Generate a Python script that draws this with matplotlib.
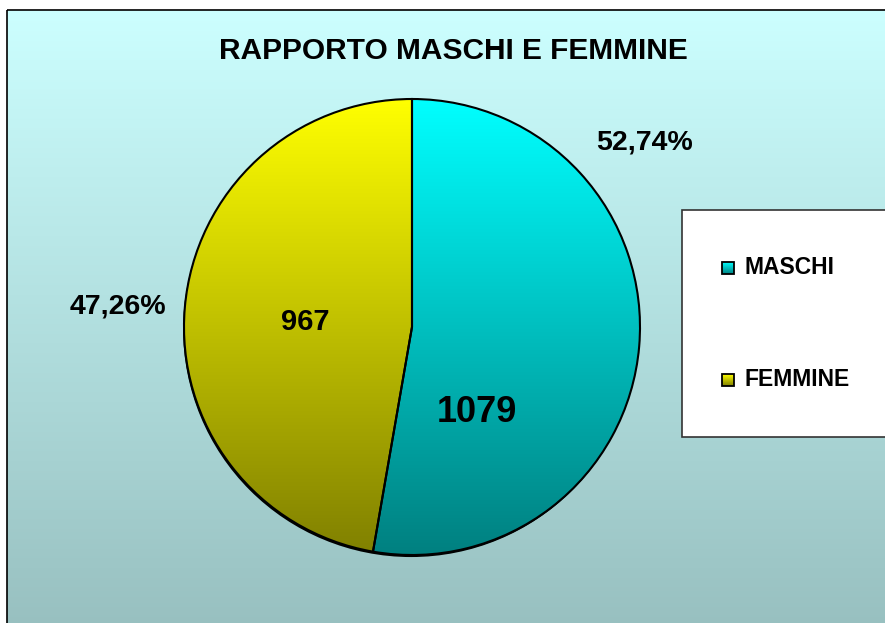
import numpy as np
import matplotlib
matplotlib.use("Agg")
import matplotlib.pyplot as plt
from matplotlib.colors import LinearSegmentedColormap
from matplotlib.patches import Rectangle, Circle

plt.rcParams['font.family'] = ['Liberation Sans', 'DejaVu Sans']

# data
categories = ["MASCHI", "FEMMINE"]
counts = [1079, 967]
title = "RAPPORTO MASCHI E FEMMINE"

# gradient colours per slice (top -> bottom)
top_cols = ["#00ffff", "#ffff00"]
bot_cols = ["#008080", "#808000"]

W, H = 885, 623
fig = plt.figure(figsize=(W / 100, H / 100), dpi=100)

# background axes in pixel coordinates
bg = fig.add_axes([0, 0, 1, 1])
bg.set_xlim(0, W)
bg.set_ylim(H, 0)
bg.axis("off")

grad = np.linspace(0, 1, 256).reshape(-1, 1)
bg_cmap = LinearSegmentedColormap.from_list("bg", ["#ccffff", "#98c0c0"])
bg.imshow(grad, cmap=bg_cmap, extent=(7, W + 5, H + 5, 10), aspect="auto", zorder=0)
bg.add_patch(Rectangle((7, 10), W, H, fill=False, ec="black", lw=1.2, zorder=1))

bg.text(453, 51, title, ha="center", va="center", fontsize=21.5, fontweight="bold")

# legend box
bg.add_patch(Rectangle((682, 210), 220, 227, fc="white", ec="#333333", lw=1.2, zorder=2))
leg_y = [268, 380]
for cat, y, tc, bc in zip(categories, leg_y, top_cols, bot_cols):
    cm = LinearSegmentedColormap.from_list(cat, [tc, bc])
    bg.imshow(grad, cmap=cm, extent=(722, 734, y + 6, y - 6), aspect="auto", zorder=3)
    bg.add_patch(Rectangle((722, y - 6), 12, 12, fill=False, ec="black", lw=1.3, zorder=4))
    bg.text(745, y, cat, ha="left", va="center", fontsize=16.5, fontweight="bold", zorder=4)

# pie axes: centre (412, 327) px, radius 228 px
cx, cy, r = 412, 327, 228
pad = 1.03
pax = fig.add_axes([(cx - r * pad) / W, (H - cy - r * pad) / H, 2 * pad * r / W, 2 * pad * r / H])
pax.set_facecolor("none")
wedges, _ = pax.pie(counts, startangle=90, counterclock=False, radius=1,
                    wedgeprops=dict(fc="none", ec="black", lw=1.5))
pax.set_xlim(-pad, pad)
pax.set_ylim(-pad, pad)
pax.set_aspect("equal")
pax.axis("off")

# slight drop shadow under the pie
pax.add_patch(Circle((-0.004, -0.009), 1.0, fc="black", ec="none", zorder=0.5))

for w, cat, tc, bc in zip(wedges, categories, top_cols, bot_cols):
    cm = LinearSegmentedColormap.from_list(cat + "_w", [tc, bc])
    im = pax.imshow(grad, cmap=cm, extent=(-1, 1, -1, 1), aspect="auto", zorder=1)
    im.set_clip_path(w)
    w.set_zorder(2)

total = sum(counts)
pcts = [f"{100 * c / total:.2f}".replace(".", ",") + "%" for c in counts]

# percentage labels outside, counts inside
pax.text(1.02, 0.81, pcts[0], ha="center", va="center", fontsize=20.5, fontweight="bold")
pax.text(-1.29, 0.09, pcts[1], ha="center", va="center", fontsize=20.5, fontweight="bold")
pax.text(0.285, -0.373, str(counts[0]), ha="center", va="center", fontsize=26, fontweight="bold")
pax.text(-0.47, 0.02, str(counts[1]), ha="center", va="center", fontsize=21, fontweight="bold")

fig.savefig("out.png", dpi=100)
